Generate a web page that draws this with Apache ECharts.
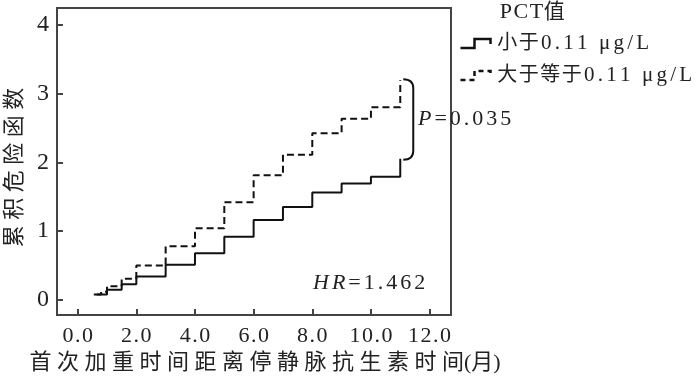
<!DOCTYPE html>
<html>
<head>
<meta charset="utf-8">
<script src="https://cdn.jsdelivr.net/npm/echarts@6/dist/echarts.min.js"></script>
<style>html,body{margin:0;padding:0;background:#fff}#c{width:700px;height:379px}</style>
</head>
<body>
<div id="c"></div>
<script>
var xTicks = [0, 2, 4, 6, 8, 10, 12];
var yTicks = [0, 1, 2, 3, 4];
var seriesNames = ['小于0.11 μg/L', '大于等于0.11 μg/L'];
// [time (months), cumulative hazard]
var lowPCT = [[0.55,0.08],[1.0,0.15],[1.5,0.23],[2.0,0.34],[3.0,0.51],[4.0,0.68],[5.0,0.92],[6.0,1.16],[7.0,1.35],[8.0,1.56],[9.0,1.69],[10.0,1.79],[11.0,2.05]];
var highPCT = [[0.65,0.08],[0.8,0.12],[1.0,0.2],[1.5,0.31],[2.0,0.5],[3.0,0.78],[4.0,1.04],[5.0,1.42],[6.0,1.81],[7.0,2.11],[8.0,2.42],[9.0,2.63],[10.0,2.80],[11.0,3.19]];
var bracketData = [[11.0, 3.19, 2.05]];

var FONT = "'Liberation Serif', 'Noto Sans CJK SC', serif";
var TXT = '#222';

// letter-spaced rich text: CJK chars use style k, others use style c
function track(s, latin, cjk) {
  latin = latin || 'c'; cjk = cjk || 'k';
  var out = '';
  for (var i = 0; i < s.length; i++) {
    var ch = s[i];
    var st = /[\u3400-\u9fff]/.test(ch) ? cjk : latin;
    if (ch === ' ') ch = '\u00a0';
    out += '{' + st + '|' + ch + '}';
  }
  return out;
}
function tokenStyle(size, gap, italic) {
  return {fontFamily: FONT, fontSize: size, color: TXT, fill: TXT, fontStyle: italic ? 'italic' : 'normal',
    padding: [0, gap / 2, 0, gap / 2]};
}

var chart = echarts.init(document.getElementById('c'), null, {renderer: 'canvas'});
chart.setOption({
  animation: false,
  backgroundColor: '#fff',
  title: {
    text: track('PCT值'), left: 499, top: 1, padding: 0,
    textStyle: {fontFamily: FONT, fontSize: 22, fontWeight: 'normal', color: TXT,
      rich: {c: tokenStyle(22, 1.5), k: tokenStyle(21, 0)}}
  },
  legend: {
    orient: 'vertical', left: 458, top: 33, padding: 0,
    itemWidth: 30, itemHeight: 10, itemGap: 11,
    icon: 'path://M0,9 L14,9 L14,0 L30,0 L30,5',
    formatter: function (n) { return track(n); },
    textStyle: {fontFamily: FONT, fontSize: 21, color: TXT, padding: [0, 0, 0, 1],
      rich: {c: tokenStyle(21, 3.2), k: tokenStyle(20, 1.5)}},
    data: [
      {name: seriesNames[0], itemStyle: {color: 'none', borderColor: '#111', borderWidth: 2.5, borderType: 'solid'}},
      {name: seriesNames[1], itemStyle: {color: 'none', borderColor: '#111', borderWidth: 2.5, borderType: [5, 4]}}
    ]
  },
  grid: {left: 57, right: 249, top: 8, bottom: 64, show: true, borderColor: '#444', borderWidth: 2,
    containLabel: false, outerBoundsMode: 'none'},
  xAxis: {
    type: 'value', min: -0.705, max: 12.73,
    name: '首 次 加 重 时 间 距 离 停 静 脉 抗 生 素 时 间(月)',
    nameLocation: 'middle', nameGap: 30,
    nameTextStyle: {fontFamily: FONT, fontSize: 22, color: TXT, padding: [0, 0, 0, 22]},
    axisLine: {show: true, onZero: false, lineStyle: {color: '#444', width: 2}},
    axisTick: {show: true, inside: true, length: 6, customValues: xTicks, lineStyle: {color: '#444', width: 2}},
    axisLabel: {customValues: xTicks, margin: 10, fontFamily: FONT, fontSize: 22, color: TXT,
      rich: {c: tokenStyle(22, 1.5)},
      formatter: function (v) { return track(v.toFixed(1)); }},
    splitLine: {show: false}
  },
  yAxis: {
    type: 'value', min: -0.218, max: 4.24,
    name: '累 积 危 险 函 数',
    nameLocation: 'middle', nameGap: 31, nameRotate: 90,
    nameTextStyle: {fontFamily: FONT, fontSize: 22, color: TXT, padding: [0, 12, 0, 0]},
    axisLine: {show: true, onZero: false, lineStyle: {color: '#444', width: 2}},
    axisTick: {show: true, inside: true, length: 6, customValues: yTicks, lineStyle: {color: '#444', width: 2}},
    axisLabel: {customValues: yTicks, margin: 8, fontFamily: FONT, fontSize: 24, color: TXT},
    splitLine: {show: false}
  },
  series: [
    {name: seriesNames[0], type: 'line', step: 'end', showSymbol: false, data: lowPCT,
      lineStyle: {color: '#111', width: 2}, itemStyle: {color: '#111'}},
    {name: seriesNames[1], type: 'line', step: 'end', showSymbol: false, data: highPCT,
      lineStyle: {color: '#111', width: 2, type: [7, 4]}, itemStyle: {color: '#111'}},
    {type: 'custom', silent: true, data: bracketData,
      renderItem: function (params, api) {
        var top = api.coord([api.value(0), api.value(1)]);
        var bot = api.coord([api.value(0), api.value(2)]);
        var x0 = top[0] + 3, x1 = top[0] + 13;
        var t = top[1] - 1, b = bot[1] + 1;
        return {
          type: 'path',
          shape: {pathData: 'M' + x0 + ',' + t + ' Q' + x1 + ',' + t + ' ' + x1 + ',' + (t + 9) +
            ' L' + x1 + ',' + (b - 9) + ' Q' + x1 + ',' + b + ' ' + x0 + ',' + b},
          style: {fill: 'none', stroke: '#111', lineWidth: 2}
        };
      }}
  ],
  graphic: [
    {type: 'text', left: 418, top: 108, style: {
      text: track('P', 'i') + track('=0.035'), rich: {
        i: tokenStyle(22, 3, true), c: tokenStyle(22, 3)}}},
    {type: 'text', left: 313, top: 272, style: {
      text: track('HR', 'i') + track('=1.462'), rich: {
        i: tokenStyle(22, 3, true), c: tokenStyle(22, 3)}}}
  ]
});
</script>
</body>
</html>
